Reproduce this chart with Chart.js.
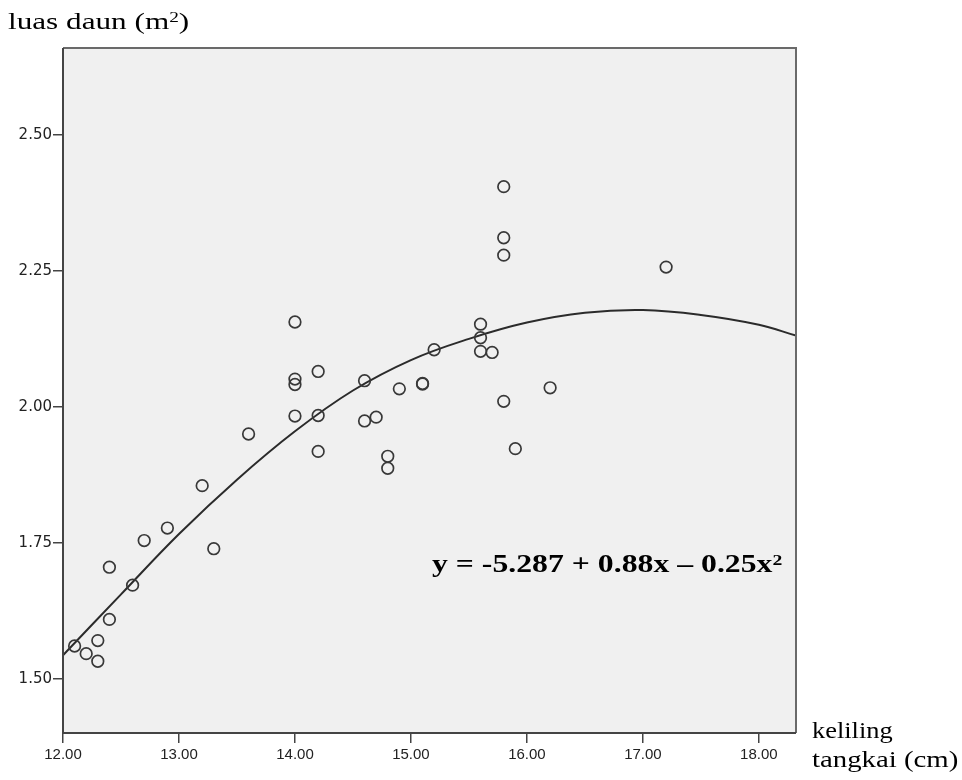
<!DOCTYPE html>
<html>
<head>
<meta charset="utf-8">
<title>luas daun vs keliling tangkai</title>
<script src="https://cdn.jsdelivr.net/npm/chart.js@4/dist/chart.umd.min.js"></script>
<style>
  html, body { margin: 0; padding: 0; background: #fff; }
  #wrap { position: relative; width: 962px; height: 780px; overflow: hidden; }
  #chart { position: absolute; left: 0; top: 0; }
  .txt {
    position: absolute; white-space: nowrap; line-height: 1; color: #000;
    font-family: "Liberation Serif", "Times New Roman", serif;
    transform-origin: 0 0;
  }
  .sup { position: relative; top: -0.45em; font-size: 0.62em; }
</style>
</head>
<body>
<div id="wrap">
  <canvas id="chart" width="962" height="780"></canvas>
  <div class="txt" style="left:8px; top:9px; font-size:24px; transform:scaleX(1.3)">luas daun (m<span class="sup">2</span>)</div>
  <div class="txt" style="left:812px; top:718px; font-size:24px; transform:scaleX(1.1)">keliling</div>
  <div class="txt" style="left:812px; top:747px; font-size:24px; transform:scaleX(1.2)">tangkai (cm)</div>
  <div class="txt" style="left:432px; top:551px; font-size:25px; font-weight:bold; transform:scaleX(1.27)">y = -5.287 + 0.88x &ndash; 0.25x<span class="sup">2</span></div>
</div>

<script>
  // keliling tangkai (cm) for each observed leaf
  const girth = [
    12.1, 12.2, 12.3, 12.3, 12.4, 12.4, 12.6, 12.7, 12.9, 13.2,
    13.3, 13.6, 14.0, 14.0, 14.0, 14.0, 14.2, 14.2, 14.2, 14.6,
    14.6, 14.7, 14.8, 14.8, 14.9, 15.1, 15.1, 15.2, 15.6, 15.6,
    15.6, 15.7, 15.8, 15.8, 15.8, 15.8, 15.9, 16.2, 17.2
  ];
  // luas daun (m2), same order as girth
  const leafArea = [
    1.560, 1.546, 1.570, 1.532, 1.609, 1.705, 1.672, 1.754, 1.777, 1.855,
    1.739, 1.950, 2.156, 2.051, 2.041, 1.983, 2.065, 1.984, 1.918, 2.048,
    1.974, 1.981, 1.909, 1.887, 2.033, 2.042, 2.043, 2.105, 2.152, 2.127,
    2.102, 2.100, 2.405, 2.311, 2.279, 2.010, 1.923, 2.035, 2.257
  ];

  // quadratic fit line
  const fitX = [12.0, 12.5, 13.0, 13.5, 14.0, 14.5, 15.0, 15.5, 16.0, 16.5, 17.0, 17.5, 18.0, 18.32];
  const fitY = [1.543, 1.655, 1.766, 1.866, 1.955, 2.030, 2.086, 2.125, 2.155, 2.173, 2.178, 2.169, 2.151, 2.131];

  const xTicks = [12, 13, 14, 15, 16, 17, 18];
  const yTicks = [1.50, 1.75, 2.00, 2.25, 2.50];
  const xMin = 12, xMax = 18.32;
  const yMin = 1.40, yMax = 2.66;

  /* ---------- plot panel: grey fill + frame ---------- */
  const plotFrame = {
    id: 'plotFrame',
    beforeDraw(chart) {
      const { ctx, chartArea: a } = chart;
      ctx.save();
      ctx.fillStyle = '#f0f0f0';
      ctx.fillRect(a.left, a.top, a.right - a.left, a.bottom - a.top);
      ctx.restore();
    },
    afterDraw(chart) {
      const { ctx, chartArea: a } = chart;
      ctx.save();
      ctx.lineWidth = 2;
      // top/right in a lighter grey, axes darker
      ctx.strokeStyle = '#6a6a6a';
      ctx.beginPath();
      ctx.moveTo(a.left, a.top); ctx.lineTo(a.right, a.top); ctx.lineTo(a.right, a.bottom);
      ctx.stroke();
      ctx.strokeStyle = '#444';
      ctx.beginPath();
      ctx.moveTo(a.left, a.top); ctx.lineTo(a.left, a.bottom); ctx.lineTo(a.right, a.bottom);
      ctx.stroke();
      ctx.restore();
    }
  };

  new Chart(document.getElementById('chart'), {
    type: 'scatter',
    data: {
      datasets: [
        {
          label: 'fit',
          data: fitX.map((x, i) => ({ x, y: fitY[i] })),
          showLine: true,
          tension: 0.4,
          borderColor: '#2b2b2b',
          borderWidth: 2,
          pointRadius: 0,
          order: 2
        },
        {
          label: 'observed',
          data: girth.map((x, i) => ({ x, y: leafArea[i] })),
          pointStyle: 'circle',
          pointRadius: 5.8,
          borderWidth: 1.7,
          borderColor: '#383838',
          backgroundColor: 'rgba(0,0,0,0)',
          order: 1
        }
      ]
    },
    options: {
      responsive: false,
      devicePixelRatio: 1,
      animation: false,
      layout: { padding: { top: 48, right: 166, bottom: 0, left: 0 } },
      plugins: { legend: { display: false }, tooltip: { enabled: false } },
      scales: {
        x: {
          type: 'linear', min: xMin, max: xMax,
          afterFit: s => { s.height = 47; },
          afterBuildTicks: s => { s.ticks = xTicks.map(v => ({ value: v })); },
          grid: { display: true, drawOnChartArea: false, drawTicks: true, tickLength: 10, color: '#444', lineWidth: 1.5 },
          border: { display: false },
          ticks: {
            color: '#222', padding: 3, maxRotation: 0,
            font: { family: '"Liberation Sans", Arial, sans-serif', size: 15 },
            callback: v => Number(v).toFixed(2)
          }
        },
        y: {
          type: 'linear', min: yMin, max: yMax,
          afterFit: s => { s.width = 63; },
          afterBuildTicks: s => { s.ticks = yTicks.map(v => ({ value: v })); },
          grid: { display: true, drawOnChartArea: false, drawTicks: true, tickLength: 10, color: '#444', lineWidth: 1.5 },
          border: { display: false },
          ticks: {
            color: '#222', padding: 1,
            font: { family: '"DejaVu Sans", sans-serif', size: 15 },
            callback: v => Number(v).toFixed(2)
          }
        }
      }
    },
    plugins: [plotFrame]
  });
</script>
</body>
</html>
